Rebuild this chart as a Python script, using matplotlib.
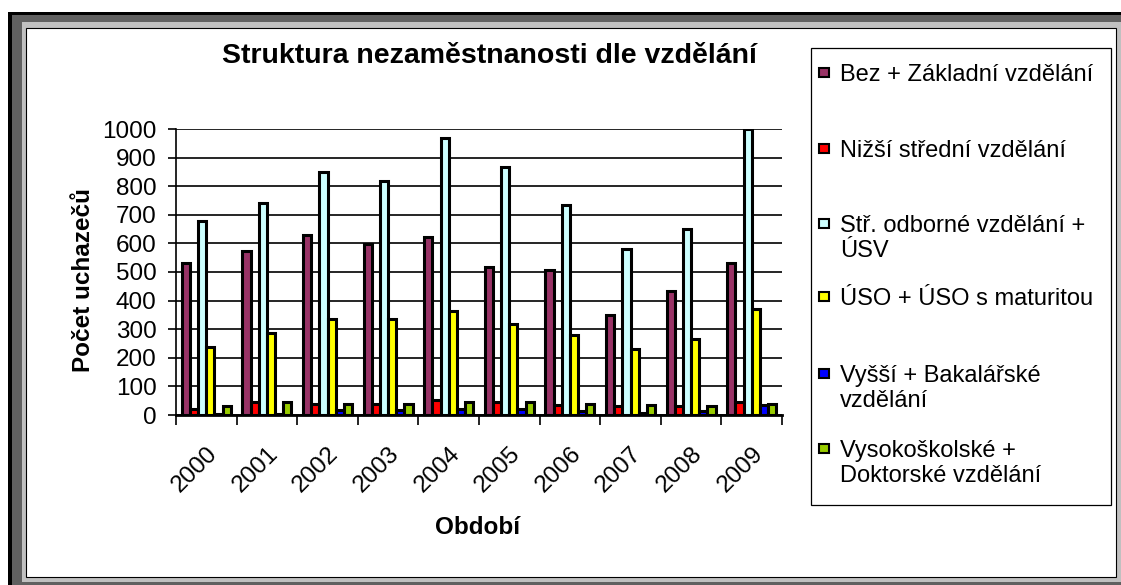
import matplotlib.pyplot as plt
import numpy as np
from matplotlib.patches import Rectangle

W, H = 1121, 585

years = ["2000", "2001", "2002", "2003", "2004", "2005", "2006", "2007", "2008", "2009"]
series_names = [
    "Bez + Základní vzdělání",
    "Nižší střední vzdělání",
    "Stř. odborné vzdělání +\nÚSV",
    "ÚSO + ÚSO s maturitou",
    "Vyšší + Bakalářské\nvzdělání",
    "Vysokoškolské +\nDoktorské vzdělání",
]
colors = ["#993366", "#ff0000", "#ccffff", "#ffff00", "#0000ff", "#99cc00"]

bez_zakladni = [533, 574, 631, 599, 624, 519, 508, 351, 432, 533]
nizsi_stredni = [22, 47, 39, 39, 53, 47, 36, 32, 33, 47]
str_odborne = [680, 743, 848, 817, 967, 866, 735, 579, 650, 1000]
uso_maturita = [238, 288, 336, 336, 364, 319, 278, 232, 264, 372]
vyssi_bakalarske = [5, 5, 19, 19, 22, 22, 13, 8, 13, 36]
vysokoskolske = [33, 47, 40, 40, 47, 47, 40, 36, 33, 40]
values = [bez_zakladni, nizsi_stredni, str_odborne, uso_maturita, vyssi_bakalarske, vysokoskolske]

plt.rcParams["font.family"] = ["Liberation Sans", "DejaVu Sans"]


def fx(px):
    return px / W


def fy(py):
    return 1 - py / H


def frame_rect(fig, x0, y0, x1, y1, **kw):
    fig.patches.append(Rectangle((fx(x0), fy(y1)), fx(x1) - fx(x0), fy(y0) - fy(y1),
                                 transform=fig.transFigure, figure=fig, **kw))


fig = plt.figure(figsize=(W / 100, H / 100), dpi=100, facecolor="white")

# outer window-like border
frame_rect(fig, 8, 12, W + 5, H + 5, facecolor="black", edgecolor="none", zorder=0)
frame_rect(fig, 12, 15, W + 5, H + 5, facecolor="#606060", edgecolor="none", zorder=0)
frame_rect(fig, 22, 22, W + 5, 582, facecolor="#c0c0c0", edgecolor="none", zorder=0)
frame_rect(fig, 26, 28, 1116, 577, facecolor="white", edgecolor="black", linewidth=0.8, zorder=0)

ax = fig.add_axes([fx(176), fy(415), fx(782) - fx(176), fy(129) - fy(415)])
ax.set_facecolor("none")
ax.set_zorder(5)

x = np.arange(len(years))
w = 0.135
for i, (vals, c) in enumerate(zip(values, colors)):
    ax.bar(x + (i - 2.5) * w, vals, width=w, color=c, edgecolor="black", linewidth=2.2, zorder=3)

ax.set_xlim(-0.5, len(years) - 0.5)
ax.set_ylim(0, 1000)
ax.set_yticks(np.arange(0, 1001, 100))
ax.yaxis.grid(True, color="black", linewidth=1.2, zorder=0)
ax.set_axisbelow(True)
ax.tick_params(axis="y", labelsize=17.5, length=6, width=1.2, pad=8)

ax.set_xticks(x)
ax.set_xticklabels(years, rotation=45, ha="right", va="top", rotation_mode="anchor")
ax.tick_params(axis="x", which="major", length=0, labelsize=17.5, pad=20)
ax.set_xticks(np.arange(-0.5, len(years)), minor=True)
ax.tick_params(axis="x", which="minor", length=7, width=1.2)

for s in ["top", "right"]:
    ax.spines[s].set_visible(False)
ax.spines["left"].set_linewidth(1.2)
ax.spines["bottom"].set_linewidth(2)

fig.text(fx(489), fy(56), "Struktura nezaměstnanosti dle vzdělání", ha="center", va="center",
         fontsize=20.5, fontweight="bold")
fig.text(fx(83), fy(280), "Počet uchazečů", rotation=90, ha="center", va="center",
         fontsize=17.5, fontweight="bold")
fig.text(fx(478), fy(528), "Období", ha="center", va="center", fontsize=17.5, fontweight="bold")

# legend box
frame_rect(fig, 811, 48, 1111, 505, facecolor="white", edgecolor="black", linewidth=0.9, zorder=1)
baselines = [81, 157, 232, 305, 382, 457]
for name, c, b in zip(series_names, colors, baselines):
    n_extra = name.count("\n")
    frame_rect(fig, 819, b - 13, 829, b - 4, facecolor=c, edgecolor="black", linewidth=1.5, zorder=2)
    fig.text(fx(840), fy(b + 25 * n_extra), name, ha="left", va="baseline", fontsize=17,
             linespacing=1.2)

fig.savefig("out.png", dpi=100)
